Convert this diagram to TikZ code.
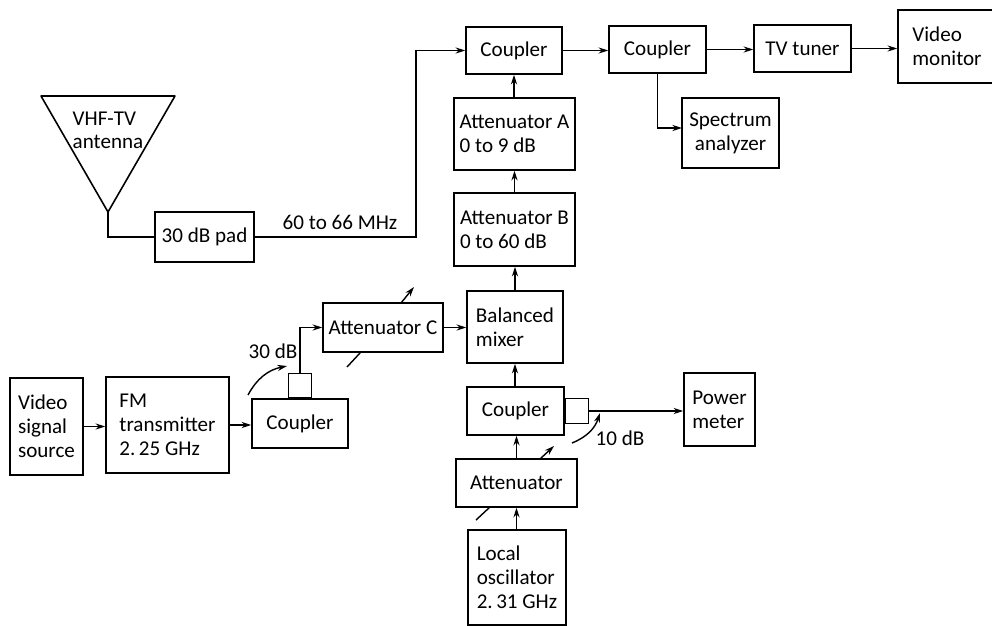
\documentclass[tikz,border=0pt]{standalone}
\usepackage{fontspec}
\setmainfont{Carlito}
\usetikzlibrary{arrows.meta}
\tikzset{
  blk/.style 2 args={draw, line width=0.9pt, inner sep=0pt, align=left, font=\fontsize{12}{13.8}\selectfont,
    minimum width=#1*0.02cm, minimum height=#2*0.02cm},
  conn/.style={line width=0.8pt, -{Stealth[length=5.5pt,width=3.5pt]}},
  plain/.style={line width=0.8pt},
  lbl/.style={font=\fontsize{12}{13.2}\selectfont, inner sep=0pt},
}
\begin{document}
\begin{tikzpicture}[x=0.02cm,y=-0.02cm]
    \useasboundingbox (0,0) rectangle (992,626);
    % Bloques de arriba
    \node[blk={96}{47}] (couplerA) at (514,50.5) {Coupler};
    \node[blk={97}{47}] (couplerB) at (657.5,49.5) {Coupler};
    \node[blk={97}{47}] (tuner) at (802.5,48.5) {TV tuner};
    \node[blk={98}{73}] (monitor) at (947,46.5) {Video\\monitor};
    \node[blk={97}{70}, align=center] (analyzer) at (730.5,133) {Spectrum\\analyzer};
    \node[blk={121}{72}] (attA) at (514.5,134) {Attenuator A\\0 to 9 dB};
    \node[blk={121}{73}] (attB) at (514.5,229.5) {Attenuator B\\0 to 60 dB};
    \node[blk={96}{72}] (mixer) at (515,327) {Balanced\\mixer};
    % Antena
    \node[blk={99}{50}] (pad) at (204.5,237) {30 dB pad};
    \coordinate (apex) at (108,212);
    \coordinate (antL) at (41,96);
    \coordinate (antR) at (175,96);
    \draw[line width=0.9pt, line join=round] (antL) -- (antR) -- (apex) -- cycle;
    \node[lbl, align=left] (antlabel) at (108,130) {VHF-TV\\antenna};
    \node[lbl] (freq) at (340,222) {60 to 66 MHz};
    % Bloques de abajo
    \node[blk={120}{49}] (attC) at (383,327.5) {Attenuator C};
    \node[blk={96}{49}] (couplerL) at (300,423.5) {Coupler};
    \node[blk={23}{24}, anchor=south] (stubL) at (couplerL.north) {};
    \node[blk={73}{97}] (source) at (46.5,426.5) {Video\\signal\\source};
    \node[blk={123}{96}] (fm) at (167.5,425) {FM\\transmitter\\2.\,25 GHz};
    \node[blk={97}{48}] (couplerC) at (515.5,411) {Coupler};
    \node[blk={23}{25}, anchor=west] (stubC) at (couplerC.east) {};
    \node[blk={121}{48}] (att) at (516.5,483) {Attenuator};
    \node[blk={98}{95}] (osc) at (517,577.5) {Local\\oscillator\\2.\,31 GHz};
    \node[blk={71}{73}] (meter) at (719.5,409.5) {Power\\meter};
    \node[lbl] (dbC) at (273,351) {30 dB};
    \node[lbl] (dbP) at (620,438) {10 dB};
    % Puntos libres
    \coordinate (bend) at (416,50.5);
    \coordinate (anIn) at (682,128);
    \coordinate (knobCa) at (401,303);
    \coordinate (knobCb) at (414,287);
    \coordinate (knobCc) at (360,353);
    \coordinate (knobCd) at (347,367);
    \coordinate (knobDa) at (540,459);
    \coordinate (knobDb) at (554,446);
    \coordinate (knobDc) at (490,507);
    \coordinate (knobDd) at (476,520);
    \coordinate (tapLa) at (248,395);
    \coordinate (tapLb) at (287,366);
    \coordinate (tapPa) at (572,443);
    \coordinate (tapPb) at (600,413);
    % Flechas
    \draw[conn] (couplerA.east) -- (couplerA.east -| couplerB.west);
    \draw[conn] (couplerB.east) -- (couplerB.east -| tuner.west);
    \draw[conn] (tuner.east) -- (tuner.east -| monitor.west);
    \draw[conn] (couplerB.south) |- (anIn);
    \draw[conn] (attA.north -| couplerA.south) -- (couplerA.south);
    \draw[conn] (attB.north) -- (attA.south);
    \draw[conn] (mixer.north) -- (mixer.north |- attB.south);
    \draw[conn] (couplerC.north -| mixer.south) -- (mixer.south);
    \draw[conn] (att.north) -- (att.north |- couplerC.south);
    \draw[conn] (osc.north -| att.south) -- (att.south);
    \draw[conn] (stubC.east) -- (stubC.east -| meter.west);
    \draw[conn] (attC.east) -- (attC.east -| mixer.west);
    \draw[conn] (stubL.north) |- (attC.west);
    \draw[conn] (source.east) -- (source.east -| fm.west);
    \draw[conn] (fm.east) -- (fm.east -| couplerL.west);
    \draw[conn] (pad.east) -| (bend) -- (couplerA.west);
    \draw[plain] (apex) |- (pad.west);
    % Flechitas de ajuste
    \draw[conn] (knobCa) -- (knobCb);
    \draw[plain] (knobCc) -- (knobCd);
    \draw[conn] (knobDa) -- (knobDb);
    \draw[plain] (knobDc) -- (knobDd);
    \draw[conn] (tapLa) to[bend left=25] (tapLb);
    \draw[conn] (tapPa) to[bend right=25] (tapPb);
\end{tikzpicture}
\end{document}
